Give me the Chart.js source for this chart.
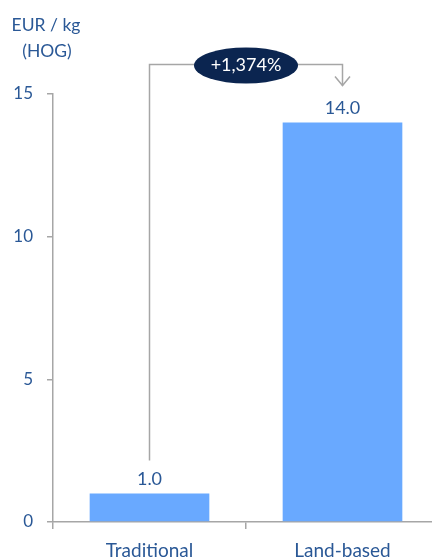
<!DOCTYPE html>
<html>
<head>
<meta charset="utf-8">
<script src="https://cdn.jsdelivr.net/npm/chart.js@4.4.1/dist/chart.umd.min.js"></script>
<style>
  html, body { margin: 0; padding: 0; background: #fff; overflow: hidden; }
  #wrap { width: 439px; height: 557px; position: relative; }
</style>
</head>
<body>
<div id="wrap"><canvas id="chart"></canvas></div>
<script>
const categories = ["Traditional", "Land-based"];
const values = [1.0, 14.0];
const yTicks = [0, 5, 10, 15];
const unitLines = ["EUR / kg", "(HOG)"];
const changeLabel = "+1,374%";

const textBlue = "#2a5896";
const axisGrey = "#a6a6a6";
const fontFamily = "Lato, 'Open Sans', sans-serif";

// value labels above each bar
const valueLabels = {
  id: "valueLabels",
  afterDatasetsDraw(chart) {
    const ctx = chart.ctx;
    const meta = chart.getDatasetMeta(0);
    ctx.save();
    ctx.fillStyle = textBlue;
    ctx.font = "18px " + fontFamily;
    ctx.textAlign = "center";
    ctx.textBaseline = "middle";
    meta.data.forEach((bar, i) => {
      ctx.fillText(values[i].toFixed(1), bar.x, bar.y - 14);
    });
    ctx.restore();
  }
};

// unit caption, connector with arrow and the change bubble
const decorations = {
  id: "decorations",
  afterDraw(chart) {
    const ctx = chart.ctx;
    const x = chart.scales.x;
    const y = chart.scales.y;
    const x0 = x.getPixelForValue(0);
    const x1 = x.getPixelForValue(1);
    const top = chart.chartArea.top - 29.5;
    const bottom0 = y.getPixelForValue(values[0]) - 33;
    const arrowTip = y.getPixelForValue(values[1]) - 37;

    ctx.save();
    ctx.fillStyle = textBlue;
    ctx.font = "17.5px " + fontFamily;
    ctx.textAlign = "center";
    ctx.textBaseline = "middle";
    ctx.fillText(unitLines[0], 46, 25);
    ctx.fillText(unitLines[1], 47, 51);

    ctx.strokeStyle = axisGrey;
    ctx.lineWidth = 1.5;
    ctx.beginPath();
    ctx.moveTo(x0, bottom0);
    ctx.lineTo(x0, top);
    ctx.lineTo(x1, top);
    ctx.lineTo(x1, arrowTip);
    ctx.stroke();
    ctx.beginPath();
    ctx.moveTo(x1 - 7.5, arrowTip - 9);
    ctx.lineTo(x1, arrowTip);
    ctx.lineTo(x1 + 7.5, arrowTip - 9);
    ctx.stroke();

    const cx = (x0 + x1) / 2;
    ctx.fillStyle = "#0b2550";
    ctx.beginPath();
    ctx.ellipse(cx, top + 1, 52, 18, 0, 0, Math.PI * 2);
    ctx.fill();
    ctx.fillStyle = "#ffffff";
    ctx.font = "18px " + fontFamily;
    ctx.fillText(changeLabel, cx, top + 1);
    ctx.restore();
  }
};

new Chart(document.getElementById("chart"), {
  type: "bar",
  data: {
    labels: categories,
    datasets: [{
      data: values,
      backgroundColor: "#69a9ff",
      borderWidth: 0,
      barPercentage: 1,
      categoryPercentage: 0.62
    }]
  },
  options: {
    responsive: true,
    maintainAspectRatio: false,
    animation: false,
    layout: { padding: { top: 94, left: 0, right: 0, bottom: 0 } },
    plugins: {
      legend: { display: false },
      tooltip: { enabled: false }
    },
    scales: {
      x: {
        afterFit(scale) { scale.height = 35; },
        grid: {
          drawOnChartArea: false,
          offset: true,
          tickLength: 7,
          tickColor: axisGrey,
          lineWidth: 1.5
        },
        border: { color: axisGrey, width: 1.5 },
        ticks: {
          color: textBlue,
          padding: 10,
          font: { family: fontFamily, size: 19 }
        }
      },
      y: {
        min: 0,
        max: 15,
        afterFit(scale) { scale.width = 53; },
        afterBuildTicks(scale) { scale.ticks = yTicks.map(v => ({ value: v })); },
        grid: {
          drawOnChartArea: false,
          tickLength: 6,
          tickColor: axisGrey,
          lineWidth: 1.5
        },
        border: { color: axisGrey, width: 1.5 },
        ticks: {
          color: textBlue,
          padding: 14,
          font: { family: fontFamily, size: 17 }
        }
      }
    }
  },
  plugins: [valueLabels, decorations]
});
</script>
</body>
</html>
